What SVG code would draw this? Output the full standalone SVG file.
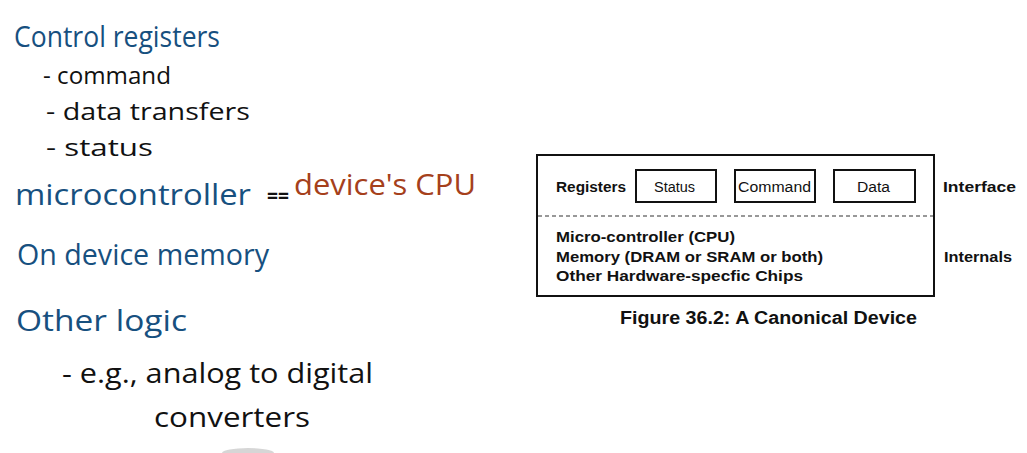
<svg xmlns="http://www.w3.org/2000/svg" width="1027" height="453" viewBox="0 0 1027 453">
  <style>
    .hand { font-family: "Open Sans", "Noto Sans", sans-serif; }
    .blue { fill: #17507f; }
    .ink { fill: #111; }
    .rust { fill: #a5401b; }
    .box { fill: none; stroke: #111; stroke-width: 2; }
    .fig { font-family: "Liberation Sans", Arial, sans-serif; fill: #111; }
    .b { font-weight: bold; }
  </style>
  <rect width="1027" height="453" fill="#fff"/>

  <!-- handwritten notes -->
  <g id="notes">
    <text class="hand blue" x="14" y="47" font-size="29" textLength="206" lengthAdjust="spacingAndGlyphs">Control registers</text>
    <text class="hand ink" x="43" y="84" font-size="23" textLength="128" lengthAdjust="spacingAndGlyphs">- command</text>
    <text class="hand ink" x="46" y="120" font-size="23" textLength="204" lengthAdjust="spacingAndGlyphs">- data transfers</text>
    <text class="hand ink" x="46" y="156" font-size="23" textLength="107" lengthAdjust="spacingAndGlyphs">- status</text>
    <text class="hand blue" x="15" y="205" font-size="29" textLength="236" lengthAdjust="spacingAndGlyphs">microcontroller</text>
    <text class="hand ink b" x="267" y="203" font-size="22" textLength="22" lengthAdjust="spacingAndGlyphs">==</text>
    <text class="hand rust" x="294" y="195" font-size="29" textLength="182" lengthAdjust="spacingAndGlyphs">device's  CPU</text>
    <text class="hand blue" x="17" y="265" font-size="29" textLength="252" lengthAdjust="spacingAndGlyphs">On device memory</text>
    <text class="hand blue" x="16" y="331" font-size="29" textLength="171" lengthAdjust="spacingAndGlyphs">Other logic</text>
    <text class="hand ink" x="62" y="383" font-size="27" textLength="311" lengthAdjust="spacingAndGlyphs">- e.g., analog to digital</text>
    <text class="hand ink" x="154" y="427" font-size="27" textLength="156" lengthAdjust="spacingAndGlyphs">converters</text>
  </g>

  <!-- canonical device figure -->
  <g id="device">
    <rect class="box" x="537" y="155" width="397" height="141"/>
    <line x1="538" y1="216" x2="933" y2="216" stroke="#333" stroke-width="1.2" stroke-dasharray="4,3"/>
    <text class="fig b" x="556" y="192" font-size="14" textLength="70" lengthAdjust="spacingAndGlyphs">Registers</text>
    <text class="fig b" x="556" y="242" font-size="15" textLength="179" lengthAdjust="spacingAndGlyphs">Micro-controller (CPU)</text>
    <text class="fig b" x="556" y="262" font-size="15" textLength="267" lengthAdjust="spacingAndGlyphs">Memory (DRAM or SRAM or both)</text>
    <text class="fig b" x="556" y="281" font-size="15" textLength="247" lengthAdjust="spacingAndGlyphs">Other Hardware-specfic Chips</text>
  </g>
  <g id="reg-status">
    <rect class="box" x="636" y="170" width="80" height="32"/>
    <text class="fig" x="654" y="192" font-size="14" textLength="41" lengthAdjust="spacingAndGlyphs">Status</text>
  </g>
  <g id="reg-command">
    <rect class="box" x="735" y="170" width="80" height="32"/>
    <text class="fig" x="738" y="192" font-size="14" textLength="73" lengthAdjust="spacingAndGlyphs">Command</text>
  </g>
  <g id="reg-data">
    <rect class="box" x="834" y="170" width="81" height="32"/>
    <text class="fig" x="857" y="192" font-size="14" textLength="33" lengthAdjust="spacingAndGlyphs">Data</text>
  </g>
  <g id="labels">
    <text class="fig b" x="943" y="192" font-size="15" textLength="73" lengthAdjust="spacingAndGlyphs">Interface</text>
    <text class="fig b" x="944" y="262" font-size="15" textLength="68" lengthAdjust="spacingAndGlyphs">Internals</text>
    <text class="fig b" x="620" y="324" font-size="18" textLength="297" lengthAdjust="spacingAndGlyphs">Figure 36.2: A Canonical Device</text>
  </g>
  <g id="connectors"/>

  <!-- faint smudge at the lower edge -->
  <ellipse cx="248" cy="453" rx="26" ry="5" fill="#bbb" opacity="0.6"/>
</svg>
